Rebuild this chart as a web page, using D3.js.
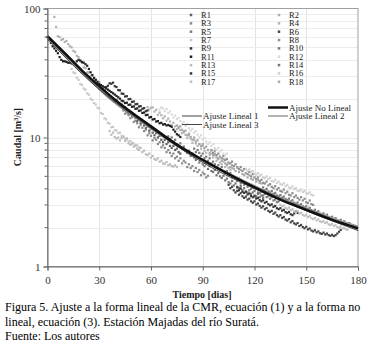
<!DOCTYPE html>
<html>
<head>
<meta charset="utf-8">
<script src="https://cdn.jsdelivr.net/npm/d3@7"></script>
<style>
body{margin:0;background:#fff;}
svg text{font-family:"Liberation Serif","Times New Roman",serif;}
</style>
</head>
<body>
<div id="container"></div>
<script>
let w=379;
let h=346;

// recesiones R1..R18: dia de inicio y caudal diario [m3/s]
let names=["R1","R2","R3","R4","R5","R6","R7","R8","R9","R10","R11","R12","R13","R14","R15","R16","R17","R18"];
let startDay=[38,4,44,58,85,105,14,95,30,125,0,65,36,70,110,115,135,75];

let q1=[20,19.0,19.6,18.4,17.6,18.0,16.8,17.1,16.0,15.3,15.8,14.6,15.0,14.2,13.4,13.9,12.9,13.3,12.4,11.8,12.2,11.3,11.7,10.9,10.4,10.8,10.0,10.3,9.6,9.2,9.6,8.9,9.2,8.6,8.3,8.6,8.0,8.2,7.7,7.5];
let q2=[86,72,61,60,57,58,55,56,53,51,50,47,46,43,42,39,38,35,34.5,32,32,30,30,28,28,26.5,27,25.5];
let q3=[16.2,15.3,15.6,14.9,14.1,14.4,13.2,13.5,12.9,12.0,12.5,11.9,11.2,11.5,10.4,10.8,10.3,9.5,9.9,9.6,8.9,9.2,8.4,8.7,8.3,7.7,8.0,7.6,7.2,7.5,6.9,7.1,6.6,6.9,6.3,6.6,6.4,5.9,6.2,5.8,6.0,5.5,5.8,5.4,5.6,5.1,5.35,5.2,4.9,5.05];
let q4=[17.2,16.5,17.0,17.1,15.9,16.4,15.0,15.6,14.9,14.1,14.6,13.5,14.0,13.3,12.5,13.0,12.2,11.6,12.1,11.4,10.8,11.2,10.5,9.9,10.4,9.8,9.1,9.6,9.0,8.6,8.9,8.2,8.6,7.9,7.6,8.0,7.3,7.5,7.0,7.3,6.6,6.9,6.4,6.2,6.5,5.9,6.2,5.8,5.6,5.8];
let q5=[8.2,7.7,8.0,7.6,7.2,7.5,6.9,7.1,6.6,6.9,6.3,6.5,6.2,5.9,6.1,5.6,5.9,5.5,5.3,5.5,5.1,5.3,4.9,5.0,4.8,4.6,4.8,4.4,4.6,4.3,4.45,4.15,4.3,4.0,4.1,3.85,4.0,3.75,3.7,3.8,3.55,3.65,3.45,3.5,3.35,3.45,3.25,3.3,3.15,3.2];
let q6=[4.3,4.05,4.15,3.9,3.75,3.85,3.6,3.7,3.5,3.4,3.48,3.3,3.36,3.2,3.12,3.2,3.02,3.08,2.95,2.86,2.93,2.78,2.84,2.7,2.64,2.7,2.56,2.62,2.5,2.44,2.5,2.38,2.42,2.31,2.27,2.33,2.2,2.25,2.16,2.12,2.17,2.06,2.1,2.02,1.98,2.03,1.94,1.97,1.9,1.87,1.91,1.84,1.87,1.81,1.79,1.83,1.77,1.8,1.75,1.73,1.76,1.72,1.75,1.8,1.86,1.92];
let q7=[34,32,31.5,29,28,26,25.5,24,23.5,22,21.5,20,19.5,18.5,18,17,16.8,15.5,15.2,14.1,13.8,13,12.8,12,12.1,11.4,11.3,10.8,10.9,10.3,10.1,9.8,9.9,9.3,9.4,8.9,9.0,8.6,8.7,8.4];
let q8=[8.0,7.6,7.9,7.3,7.5,7.1,6.9,7.2,6.7,6.8,6.4,6.3,6.5,6.0,6.2,5.9,5.7,5.9,5.5,5.7,5.3,5.2,5.4,5.0,5.2,4.9,4.75,4.9,4.6,4.7,4.45,4.4,4.55,4.25,4.35,4.15,4.05,4.2,3.95,4.05,3.85,3.8,3.95,3.7,3.8,3.6,3.55,3.7,3.45,3.55,3.4,3.3,3.45,3.25,3.35,3.15,3.1,3.25,3.05,3.0];
let q9=[24,23.4,23.9,23.0,24.6,25.2,26.3,26.1,26.6,25.0,24.6,23.3,23.2,21.9,21.8,20.8,20.9,19.8,19.9,18.9,19.0,18.1,18.2,17.4,17.5,16.7,16.9,16.0,16.2];
let q10=[4.1,3.9,4.0,3.82,3.75,3.84,3.66,3.72,3.56,3.5,3.58,3.42,3.48,3.34,3.28,3.36,3.2,3.26,3.12,3.06,3.13,2.98,3.04,2.92,2.87,2.93,2.8,2.85,2.74,2.69,2.75,2.63,2.68,2.57,2.53,2.58,2.47,2.52,2.42,2.38,2.43,2.33,2.37,2.28,2.25,2.3,2.2,2.24,2.15,2.12,2.17,2.08,2.06];
let q11=[60,57,54,51,49,47,45,42,40,39,39,38.5,38,38,37.5,38,37,39,40,39.5,38.5,38,37,36,34,32,30.5,29,28,27,26,25.5,25,24.5,24,23.5,23,22.5,22,21.5,21,20.5,20,19.3,19.1,18.5,18.6,17.9,18.0,17.3,17.4,16.7,16.8,16.1,16.2,15.5,15.6,14.9,15.0,14.3,14.4,13.8,13.9,13.3,13.4,12.9,13.0,12.6,12.7,12.4,12.5,12.3,12.1,11.5,11.1,10.6,10.4,10.1];
let q12=[16.5,17.1,16.8,16.0,16.6,15.5,15.9,15.1,14.3,14.8,13.9,14.2,13.4,12.8,13.2,12.3,12.7,11.8,11.3,11.7,10.9,11.2,10.5,10.0,10.4,9.7,9.9,9.3,8.9,9.2,8.6,8.9,8.3,8.0,8.3,7.8,8.0,7.5,7.3,7.5];
let q13=[11.2,10.5,10.9,10.1,9.8,10.0,9.5,9.9,10.2,9.4,9.7,9.0,8.8,9.1,8.5,8.7,8.2,8.0,8.3,7.7,7.9,7.4,7.3,7.5,7.0,7.2,6.8,6.7,6.9,6.5,6.6,6.3,6.25,6.45,6.1,6.2,6.0,5.95,6.1,5.9];
let q14=[10.2,9.7,10.0,9.3,9.6,8.9,8.6,9.0,8.2,8.5,7.9,7.6,7.9,7.2,7.5,7.0,6.7,7.0,6.4,6.7,6.2,6.0,6.3,5.7,6.0,5.5,5.4,5.6,5.1,5.3,5.0,4.85,5.05,4.65,4.8,4.5,4.4,4.6,4.25,4.4,4.15,4.05,4.2,3.9,4.05,3.8,3.75,3.9,3.65,3.75,3.55,3.5,3.65,3.45,3.55,3.4];
let q15=[4.1,3.9,4.02,3.8,3.72,3.8,3.62,3.68,3.52,3.44,3.5,3.36,3.4,3.27,3.2,3.26,3.12,3.17,3.04,2.98,3.03,2.9,2.95,2.83,2.78,2.83,2.71,2.75,2.64,2.6,2.65,2.54,2.5,2.58,2.66,2.6];
let q16=[5.7,5.5,5.65,5.4,5.5,5.25,5.15,5.3,5.05,5.15,4.9,4.85,5.0,4.75,4.85,4.6,4.55,4.7,4.45,4.55,4.35,4.3,4.42,4.2,4.3,4.1,4.05,4.18,3.98,4.06,3.88,3.84,3.95,3.78,3.86,3.7,3.66,3.76,3.6,3.56];
let q17=[3.0,2.92,2.97,2.85,2.8,2.86,2.74,2.78,2.67,2.63,2.68,2.57,2.61,2.51,2.47,2.52,2.42,2.46,2.37,2.33,2.38,2.28,2.32,2.24,2.21,2.25,2.17,2.2,2.12,2.1,2.14,2.06,2.09,2.02,2.0,2.04,1.97,1.99,1.94,1.93];
let q18=[12.4,11.8,12.2,11.5,11.0,11.3,10.4,10.7,10.1,9.6,10.0,9.3,9.5,8.9,8.6,8.9,8.3,8.5,8.0,7.6,7.9,7.3,7.5,7.0,6.8,7.1,6.6,6.8,6.3,6.1,6.3,5.9,6.1,5.7,5.5,5.8,5.4,5.6,5.2,5.1,5.3,4.9,5.1,4.8,4.7,4.9,4.55,4.7,4.45,4.4];
let qs=[q1,q2,q3,q4,q5,q6,q7,q8,q9,q10,q11,q12,q13,q14,q15,q16,q17,q18];

// ajustes [dia, caudal]
let fitNoLineal=[[0,61],[10,45],[20,33],[30,25],[40,19.2],[50,15.2],[60,12.2],[75,8.8],[90,6.7],[105,5.2],[120,4.1],[135,3.3],[150,2.75],[165,2.3],[180,1.98]];
let fitLineal1=[[0,60],[15,38],[35,20.5],[60,11.8],[90,6.6],[125,3.9],[180,1.95]];
let fitLineal2=[[0,59],[20,31.5],[45,16.5],[75,8.6],[110,4.9],[150,2.8],[180,2.05]];
let fitLineal3=[[0,58],[25,27],[55,13.2],[90,6.4],[130,3.5],[180,1.9]];

let xTicks=[0,30,60,90,120,150,180];
let yTicks=[1,10,100];
let yMinor=[2,3,4,5,6,7,8,9,20,30,40,50,60,70,80,90];

// estilos
let shades=["#606060","#b0b0b0","#8a8a8a","#b4b4b4","#7c7c7c","#454545","#c8c8c8","#8e8e8e","#333333","#7a7a7a","#202020","#dadada","#bcbcbc","#777777","#363636","#cfcfcf","#c0c0c0","#a8a8a8"];

let x=d3.scaleLinear().domain([0,180]).range([47.5,358]);
let y=d3.scaleLog().domain([1,100]).range([266.5,8.5]);

let viz=d3.select("#container").append("svg")
  .attr("width",w).attr("height",h)
  .style("background","#fff");

// rejilla
viz.selectAll(".vgrid").data(xTicks.slice(1,-1)).enter()
  .append("line")
  .attr("x1",d=>Math.round(x(d))+0.5).attr("x2",d=>Math.round(x(d))+0.5)
  .attr("y1",y(100)).attr("y2",y(1))
  .attr("stroke","#e4e4e4").attr("stroke-width",1);
viz.selectAll(".hgrid").data(yMinor.concat([10])).enter()
  .append("line")
  .attr("x1",x(0)).attr("x2",x(180))
  .attr("y1",d=>Math.round(y(d))+0.5).attr("y2",d=>Math.round(y(d))+0.5)
  .attr("stroke","#ececec").attr("stroke-width",1);

// marco
viz.append("rect")
  .attr("x",x(0)).attr("y",y(100))
  .attr("width",x(180)-x(0)).attr("height",y(1)-y(100))
  .attr("fill","none").attr("stroke","#a0a0a0").attr("stroke-width",1);

// puntos
let pts=[];
qs.forEach(function(arr,i){
  arr.forEach(function(q,j){
    pts.push({t:startDay[i]+j,q:q,s:i});
  });
});
viz.append("g").selectAll("rect").data(pts).enter()
  .append("rect")
  .attr("x",d=>x(d.t)-1.1)
  .attr("y",d=>y(d.q)-1.1)
  .attr("width",2.2).attr("height",2.2)
  .attr("fill",d=>shades[d.s]);

// lineas de ajuste
let line=d3.line().x(d=>x(d[0])).y(d=>y(d[1])).curve(d3.curveMonotoneX);
viz.append("path").attr("d",line(fitLineal2)).attr("fill","none").attr("stroke","#9a9a9a").attr("stroke-width",1.5);
viz.append("path").attr("d",line(fitLineal1)).attr("fill","none").attr("stroke","#808080").attr("stroke-width",1.5);
viz.append("path").attr("d",line(fitLineal3)).attr("fill","none").attr("stroke","#444").attr("stroke-width",1);
viz.append("path").attr("d",line(fitNoLineal)).attr("fill","none").attr("stroke","#111").attr("stroke-width",2.5);

// ejes
let xAxis=d3.axisBottom(x).tickValues(xTicks).tickSize(4).tickFormat(d3.format("d"));
let gx=viz.append("g").attr("transform","translate(0,"+y(1)+")").call(xAxis);
gx.attr("font-family",null);
gx.select(".domain").attr("stroke","#666");
gx.selectAll(".tick line").attr("stroke","#666");
gx.selectAll("text").attr("font-size",11).attr("fill","#333").attr("dy","0.95em");

let yAxis=d3.axisLeft(y).tickValues(yTicks).tickSize(4).tickFormat(d3.format("d"));
let gy=viz.append("g").attr("transform","translate("+x(0)+",0)").call(yAxis);
gy.attr("font-family",null);
gy.select(".domain").attr("stroke","#666");
gy.selectAll(".tick line").attr("stroke","#666");
gy.selectAll("text").attr("font-size",11).attr("fill","#333");
viz.selectAll(".minor").data(yMinor).enter()
  .append("line")
  .attr("x1",x(0)-3).attr("x2",x(0))
  .attr("y1",d=>y(d)).attr("y2",d=>y(d))
  .attr("stroke","#666");

// titulos de ejes
viz.append("text").text("Tiempo [dias]")
  .attr("x",202).attr("y",298)
  .attr("text-anchor","middle").attr("font-weight","bold").attr("font-size",10).attr("fill","#222");
viz.append("text").text("Caudal [m³/s]")
  .attr("transform","translate(21,137) rotate(-90)")
  .attr("text-anchor","middle").attr("font-weight","bold").attr("font-size",10).attr("fill","#222");

// leyenda
let leg=viz.append("g").attr("class","legend");
let legItem=leg.selectAll("g").data(names).enter().append("g")
  .attr("transform",(d,i)=>"translate("+(i%2==0?191:279)+","+(15+Math.floor(i/2)*8.35)+")");
legItem.append("rect")
  .attr("x",-1.25).attr("y",-1.25).attr("width",2.5).attr("height",2.5)
  .attr("fill",(d,i)=>shades[i]);
legItem.append("text").text(d=>d)
  .attr("x",10).attr("y",3)
  .attr("font-size",8.5).attr("fill","#222");

let fitLeg=[
  {name:"Ajuste No Lineal",x:268,y:107.5,c:"#111",sw:2.5},
  {name:"Ajuste Lineal 2",x:268,y:116,c:"#9a9a9a",sw:1.5},
  {name:"Ajuste Lineal 1",x:182,y:116,c:"#808080",sw:1.5},
  {name:"Ajuste Lineal 3",x:182,y:124.5,c:"#444",sw:1}
];
let fl=leg.selectAll(".fl").data(fitLeg).enter().append("g")
  .attr("transform",d=>"translate("+d.x+","+d.y+")");
fl.append("line").attr("x1",0).attr("x2",20).attr("y1",0).attr("y2",0)
  .attr("stroke",d=>d.c).attr("stroke-width",d=>d.sw);
fl.append("text").text(d=>d.name).attr("x",21).attr("y",3)
  .attr("font-size",9).attr("fill","#222");

// leyenda de la figura
let caption=["Figura 5. Ajuste a la forma lineal de la CMR, ecuación (1) y a la forma no",
  "lineal, ecuación (3). Estación Majadas del río Suratá.",
  "Fuente: Los autores"];
viz.selectAll(".cap").data(caption).enter()
  .append("text").text(d=>d)
  .attr("x",5).attr("y",(d,i)=>311+i*14.5)
  .attr("font-size",12).attr("fill","#000");
</script>
</body>
</html>
